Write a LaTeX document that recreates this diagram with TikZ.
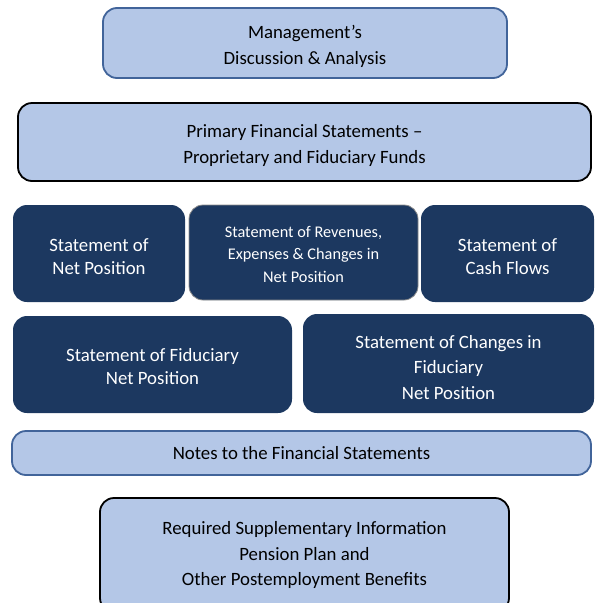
\documentclass[tikz,border=0pt]{standalone}
\usepackage{fontspec}
\setmainfont{Carlito}
\usetikzlibrary{positioning}
\definecolor{paleblue}{HTML}{B4C7E7}
\definecolor{edgeblue}{HTML}{41649A}
\definecolor{navy}{HTML}{1C3860}
\tikzset{pale/.style={rectangle,rounded corners=14pt,fill=paleblue,line width=1.8pt,
           align=center,inner sep=0pt,font=\fontsize{18.8}{25.5}\selectfont},
         dark/.style={rectangle,rounded corners=14pt,fill=navy,text=white,
           align=center,inner sep=0pt,font=\fontsize{18.8}{23}\selectfont},
         sink/.style={text height=#1,text depth=0pt}}

\begin{document}
\begin{tikzpicture}[x=1pt,y=-1pt]
\useasboundingbox (0,0) rectangle (596,603);
% top of the report
\node[pale,sink=42pt,draw=edgeblue,minimum width=404pt,minimum height=70pt] (mda) at (305,43)
  {Management's\\Discussion \& Analysis};
\node[pale,sink=42pt,draw=black,minimum width=573pt,minimum height=78pt] (pfs) at (304.5,142)
  {Primary Financial Statements --\\Proprietary and Fiduciary Funds};
% statements
\node[dark,sink=41pt,minimum width=172pt,minimum height=97pt] (snp) at (99,253.5)
  {Statement of\\Net Position};
\node[dark,sink=59pt,draw=black!45,line width=0.8pt,minimum width=229pt,minimum height=95pt,
  font=\fontsize{16.3}{22.5}\selectfont] (srev) at (303.5,252.5)
  {Statement of Revenues,\\Expenses \& Changes in\\Net Position};
\node[dark,sink=41pt,minimum width=173pt,minimum height=97pt] (scf) at (507.5,253.5)
  {Statement of\\Cash Flows};
\node[dark,sink=39pt,minimum width=279pt,minimum height=97pt] (sfnp) at (152.5,364.5)
  {Statement of Fiduciary\\Net Position};
\node[dark,sink=71pt,minimum width=291pt,minimum height=99pt,
  font=\fontsize{18.8}{25.5}\selectfont] (scfnp) at (448.5,363.5)
  {Statement of Changes in\\Fiduciary\\Net Position};
% notes and RSI
\node[pale,draw=edgeblue,minimum width=579pt,minimum height=44pt] (notes) at (301.5,453)
  {Notes to the Financial Statements};
\node[pale,draw=black,minimum width=409pt,minimum height=114pt] (rsi) at (304.5,555)
  {Required Supplementary Information\\Pension Plan and\\Other Postemployment Benefits};
\end{tikzpicture}
\end{document}
